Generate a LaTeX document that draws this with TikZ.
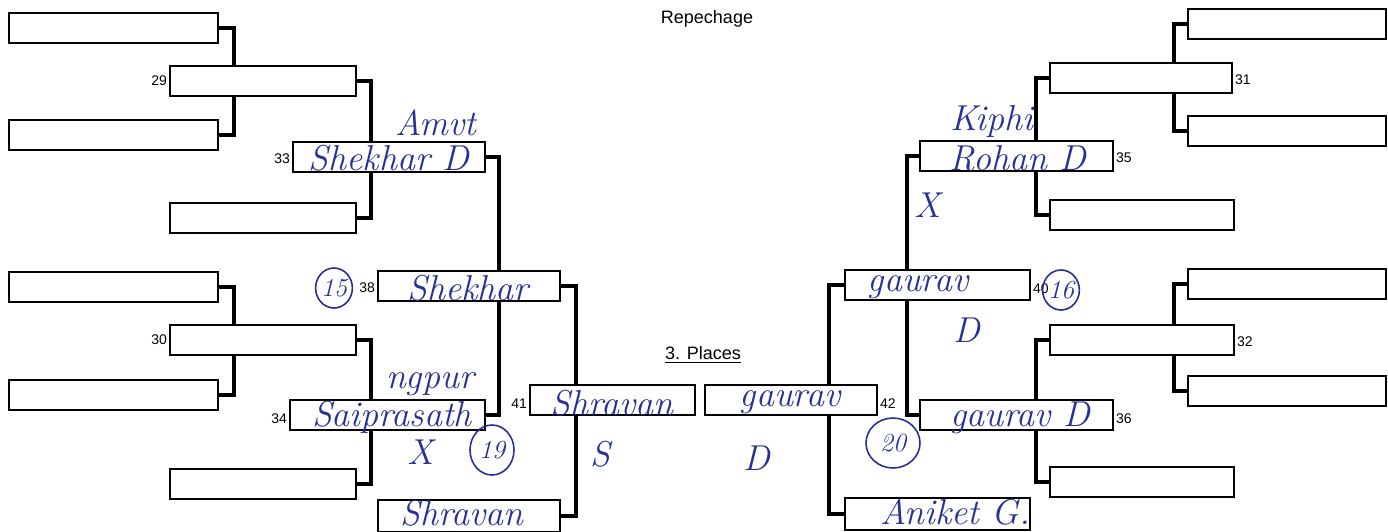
\documentclass[tikz,border=0pt]{standalone}
\usepackage{fontspec}
\setsansfont{Liberation Sans}
\usetikzlibrary{backgrounds,shapes.geometric}
\definecolor{ink}{RGB}{38,48,150}
\begin{document}
\begin{tikzpicture}[x=0.5pt,y=-0.5pt,
  slot/.style={draw=black,line width=1pt,fill=white,inner sep=0pt,minimum height=15pt},
  conn/.style={draw=black,line width=2pt,line join=miter},
  num/.style={font=\sffamily\fontsize{7}{7}\selectfont,inner sep=0.8pt},
  title/.style={font=\sffamily\fontsize{9}{9}\selectfont,inner sep=0pt},
  hand/.style={text=ink,font=\rmfamily\itshape\fontsize{18}{18}\selectfont,inner sep=0pt},
  ring/.style={draw=ink,line width=0.8pt,ellipse,inner sep=0pt,text=ink,font=\rmfamily\itshape\fontsize{13}{13}\selectfont}]
\useasboundingbox (0,0) rectangle (1388,531);
\clip (0,0) rectangle (1388,531);
% left side boxes
\node[slot,minimum width=104.5pt] (L1) at (113.5,28) {};
\node[slot,minimum width=104.5pt] (L2) at (113.5,135) {};
\node[slot,minimum width=104.5pt] (L3) at (113.5,287) {};
\node[slot,minimum width=104.5pt] (L4) at (113.5,395) {};
\node[slot,minimum width=93pt] (b29) at (263,80.5) {};
\node[slot,minimum width=93pt] (b33low) at (263,218) {};
\node[slot,minimum width=93pt] (b30) at (263,339.5) {};
\node[slot,minimum width=93pt] (b34low) at (263,484) {};
\node[slot,minimum width=96pt] (b33) at (389,157) {};
\node[slot,minimum width=97.5pt] (b34) at (387.5,415) {};
\node[slot,minimum width=91pt] (b38) at (469,286) {};
\node[slot,minimum width=91pt,minimum height=16pt] (b38low) at (469,516) {};
\node[slot,minimum width=82.5pt] (b41) at (612.5,400) {};
% right side boxes
\node[slot,minimum width=86pt] (b42) at (791,400) {};
\node[slot,minimum width=92.5pt] (b40) at (937.5,285) {};
\node[slot,minimum width=92.5pt,minimum height=16pt] (b40low) at (937.5,514) {};
\node[slot,minimum width=96.5pt] (b35) at (1016.5,156) {};
\node[slot,minimum width=96.5pt] (b36) at (1016.5,415) {};
\node[slot,minimum width=91pt] (b31) at (1141,77.5) {};
\node[slot,minimum width=92pt] (b35low) at (1142,215) {};
\node[slot,minimum width=92pt] (b32) at (1142,340) {};
\node[slot,minimum width=92pt] (b36low) at (1142,482) {};
\node[slot,minimum width=99pt] (R1) at (1287,24) {};
\node[slot,minimum width=99pt] (R2) at (1287,131) {};
\node[slot,minimum width=99pt] (R3) at (1287,284) {};
\node[slot,minimum width=99pt] (R4) at (1287,391) {};
% connectors
\begin{scope}[on background layer]
\draw[conn] (L1.east) -- ++(15,0) |- (L2.east);
\draw[conn] (L3.east) -- ++(15,0) |- (L4.east);
\draw[conn] (b29.east) -- ++(14,0) |- (b33low.east);
\draw[conn] (b30.east) -- ++(14,0) |- (b34low.east);
\draw[conn] (b33.east) -- ++(13,0) |- (b34.east);
\draw[conn] (b38.east) -- ++(15,0) |- (b38low.east);
\draw[conn] (b40.west) -- ++(-15,0) |- (b40low.west);
\draw[conn] (b35.west) -- ++(-12,0) |- (b36.west);
\draw[conn] (b31.west) -- ++(-13,0) |- (b35low.west);
\draw[conn] (b32.west) -- ++(-13,0) |- (b36low.west);
\draw[conn] (R1.west) -- ++(-13,0) |- (R2.west);
\draw[conn] (R3.west) -- ++(-13,0) |- (R4.west);
\end{scope}
% numbers
\node[num,anchor=east] (n29) at (b29.west) {29};
\node[num,anchor=east] (n33) at ([yshift=-1pt]b33.west) {33};
\node[num,anchor=east] (n30) at (b30.west) {30};
\node[num,anchor=east] (n34) at ([yshift=-2pt]b34.west) {34};
\node[num,anchor=east] (n38) at ([yshift=-1pt]b38.west) {38};
\node[num,anchor=east] (n41) at ([yshift=-2pt]b41.west) {41};
\node[num,anchor=west] (n42) at ([yshift=-2pt]b42.east) {42};
\node[num,anchor=west] (n40) at ([yshift=-2pt]b40.east) {40};
\node[num,anchor=west] (n35) at ([yshift=-1pt]b35.east) {35};
\node[num,anchor=west] (n36) at ([yshift=-2pt]b36.east) {36};
\node[num,anchor=west] (n31) at ([yshift=-1pt]b31.east) {31};
\node[num,anchor=west] (n32) at ([yshift=-1pt]b32.east) {32};
% titles
\node[title] (rep) at (707,19) {Repechage};
\node[title] (places) at (703,355) {\underline{3. Places}};
% handwriting
\node[hand] (h1) at (436,123) {Amvt};
\node[hand] (h2) at (389,158) {Shekhar D};
\node[hand] (h3) at (468,288) {Shekhar};
\node[hand] (h4) at (430,384) {ngpur};
\node[hand] (h5) at (392,417) {Saiprasath};
\node[hand] (h6) at (421,452) {X};
\node[hand] (h7) at (612,403) {Shravan};
\node[hand] (h8) at (600,454) {S};
\node[hand] (h9) at (790,402) {gaurav};
\node[hand] (h10) at (757,458) {D};
\node[hand] (h11) at (462,513) {Shravan};
\node[hand] (h12) at (955,512) {Aniket G.};
\node[hand] (h13) at (918,287) {gaurav};
\node[hand] (h14) at (967,330) {D};
\node[hand] (h15) at (1020,418) {gaurav D};
\node[hand] (h16) at (1018,158) {Rohan D};
\node[hand] (h17) at (992,121) {Kiphi};
\node[hand] (h18) at (928,205) {X};
% circled numbers
\node[ring,minimum width=17pt,minimum height=20pt] (c15) at (334,288) {15};
\node[ring,minimum width=22pt,minimum height=25pt] (c19) at (492,450) {19};
\node[ring,minimum width=16pt,minimum height=20pt] (c16) at (1061,290) {16};
\node[ring,minimum width=27pt,minimum height=25pt] (c20) at (893,443) {20};
\end{tikzpicture}
\end{document}
